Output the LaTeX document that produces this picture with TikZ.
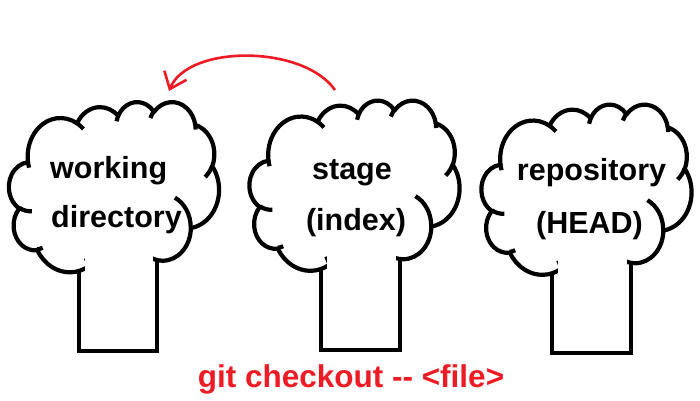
\documentclass[tikz,border=0pt]{standalone}
\usepackage{fontspec}
\setmainfont{Liberation Sans}
\usetikzlibrary{arrows.meta}
\definecolor{pred}{RGB}{237,28,36}
\def\cldsx{4.86111}
\def\cldsy{4.18981}
\newcommand\cldstart[2]{%
  \pgfmathsetmacro\mX{#1*\cldsx}\pgfmathsetmacro\mY{-1*#2*\cldsy}}
\newcommand\cldarcstr[4]{%
  \pgfmathsetmacro\tA{atan2(#1*sin(#3),#2*cos(#3))}%
  \pgfmathsetmacro\tB{atan2(#1*sin(#3+#4),#2*cos(#3+#4))}%
  \pgfmathsetmacro\tD{mod(\tB-(\tA)+720,360)}%
  \pgfmathsetmacro\sA{-1*(\tA)}%
  \pgfmathsetmacro\eA{-1*(\tA)-(\tD)}%
  \pgfmathsetmacro\rX{#1*\cldsx}%
  \pgfmathsetmacro\rY{#2*\cldsy}%
  \edef\arcstr{arc[start angle=\sA, end angle=\eA, x radius=\rX pt, y radius=\rY pt]}}
\newcommand\addmain[4]{\cldarcstr{#1}{#2}{#3}{#4}\xdef\cloudpath{\cloudpath\arcstr}}
\newcommand\addinner[6]{\cldstart{#1}{#2}\cldarcstr{#3}{#4}{#5}{#6}\xdef\cloudinner{\cloudinner(\mX,\mY)\arcstr}}
\tikzset{
  cloudline/.style={draw=black, fill=white, line width=4.2pt, line join=round},
  innerline/.style={draw=black, line width=4.2pt, line cap=butt},
  trunkline/.style={draw=black, line width=4.4pt},
  lbl/.style={anchor=base, inner sep=0pt, font=\fontsize{30.5}{36}\selectfont\bfseries},
  cmdlbl/.style={anchor=base, inner sep=0pt, text=pred, font=\fontsize{31.5}{38}\selectfont\bfseries},
  redarrow/.style={draw=pred, line width=2.6pt, -{Straight Barb[length=15pt,width=24pt]}}
}
\begin{document}
\begin{tikzpicture}[x=1pt,y=1pt]
\cldstart{3.900}{14.370}
\xdef\cloudpath{(\mX,\mY)}
\addmain{6.753}{9.190}{-190.48748}{123.78053}
\addmain{5.333}{7.267}{-144.10238}{89.94523}
\addmain{4.365}{5.945}{-145.80792}{99.72302}
\addmain{4.857}{6.595}{-130.98607}{117.24173}
\addmain{5.333}{7.273}{-78.70888}{109.02692}
\addmain{6.775}{9.220}{-46.26725}{130.26900}
\addmain{5.785}{7.867}{0.62502}{114.03333}
\addmain{6.752}{9.215}{22.45160}{115.17255}
\addmain{7.720}{10.543}{66.24263}{75.71102}
\addmain{4.360}{5.918}{-274.94208}{146.73557}
\addmain{4.345}{5.945}{-246.82850}{152.51885}
\xdef\cloudinner{}
\addinner{4.693}{26.177}{4.345}{5.945}{86.74200}{26.42950}
\addinner{6.928}{34.899}{4.360}{5.918}{73.61047}{11.44747}
\addinner{16.478}{39.090}{6.752}{9.215}{137.62415}{14.08110}
\addinner{28.827}{34.751}{6.752}{9.215}{6.45327}{15.99835}
\addinner{34.129}{22.954}{5.785}{7.867}{-70.29235}{70.91737}
\addinner{41.798}{15.354}{5.333}{7.273}{30.31803}{27.75150}
\addinner{38.324}{5.426}{4.857}{6.595}{-13.74433}{14.85890}
\addinner{29.078}{3.952}{4.857}{6.595}{-149.18145}{18.19537}
\addinner{22.141}{4.720}{4.365}{5.945}{-163.49427}{17.68635}
\addinner{14.000}{5.192}{6.753}{9.190}{-66.70695}{12.31935}
\addinner{4.127}{15.789}{6.753}{9.190}{157.65435}{11.85817}
\useasboundingbox (0,0) rectangle (700,-400);
\fill[white] (0,0) rectangle (700,-400);
% tree 1: working directory
\draw[trunkline] (79,-240) -- (79,-351) -- (157,-351) -- (157,-240);
\begin{scope}[shift={(9,-101.5)}]
\path[cloudline] \cloudpath -- cycle;
\path[innerline] \cloudinner;
\end{scope}
\fill[white] (85,-240) rectangle (153,-348.8);
\fill[white] (81.2,-273) rectangle (154.8,-348.8);
% tree 2: stage
\draw[trunkline] (321,-240) -- (321,-350) -- (400,-350) -- (400,-240);
\begin{scope}[shift={(249.5,-100)}]
\path[cloudline] \cloudpath -- cycle;
\path[innerline] \cloudinner;
\end{scope}
\fill[white] (327,-240) rectangle (396,-347.8);
\fill[white] (323.2,-272) rectangle (397.8,-347.8);
% tree 3: repository
\draw[trunkline] (552,-240) -- (552,-353) -- (631,-353) -- (631,-240);
\begin{scope}[shift={(481.5,-104)}]
\path[cloudline] \cloudpath -- cycle;
\path[innerline] \cloudinner;
\end{scope}
\fill[white] (558,-240) rectangle (627,-350.8);
\fill[white] (554.2,-276) rectangle (628.8,-350.8);
% labels
\node[lbl, anchor=base west] (wd1) at (50,-178) {working};
\node[lbl, anchor=base west] (wd2) at (51,-227) {directory};
\node[lbl] (st1) at (352,-179) {stage};
\node[lbl] (st2) at (356,-230) {(index)};
\node[lbl] (rp1) at (591.5,-180) {repository};
\node[lbl] (rp2) at (589.5,-233) {(HEAD)};
\node[cmdlbl] (cmd) at (351,-387) {git checkout -{}- <file>};
% arrow
\coordinate (arrS) at (335,-90);
\coordinate (arrE) at (169,-91);
\draw[redarrow] (arrS) .. controls (303,-44.5) and (188,-44.5) .. (arrE);
\end{tikzpicture}
\end{document}
